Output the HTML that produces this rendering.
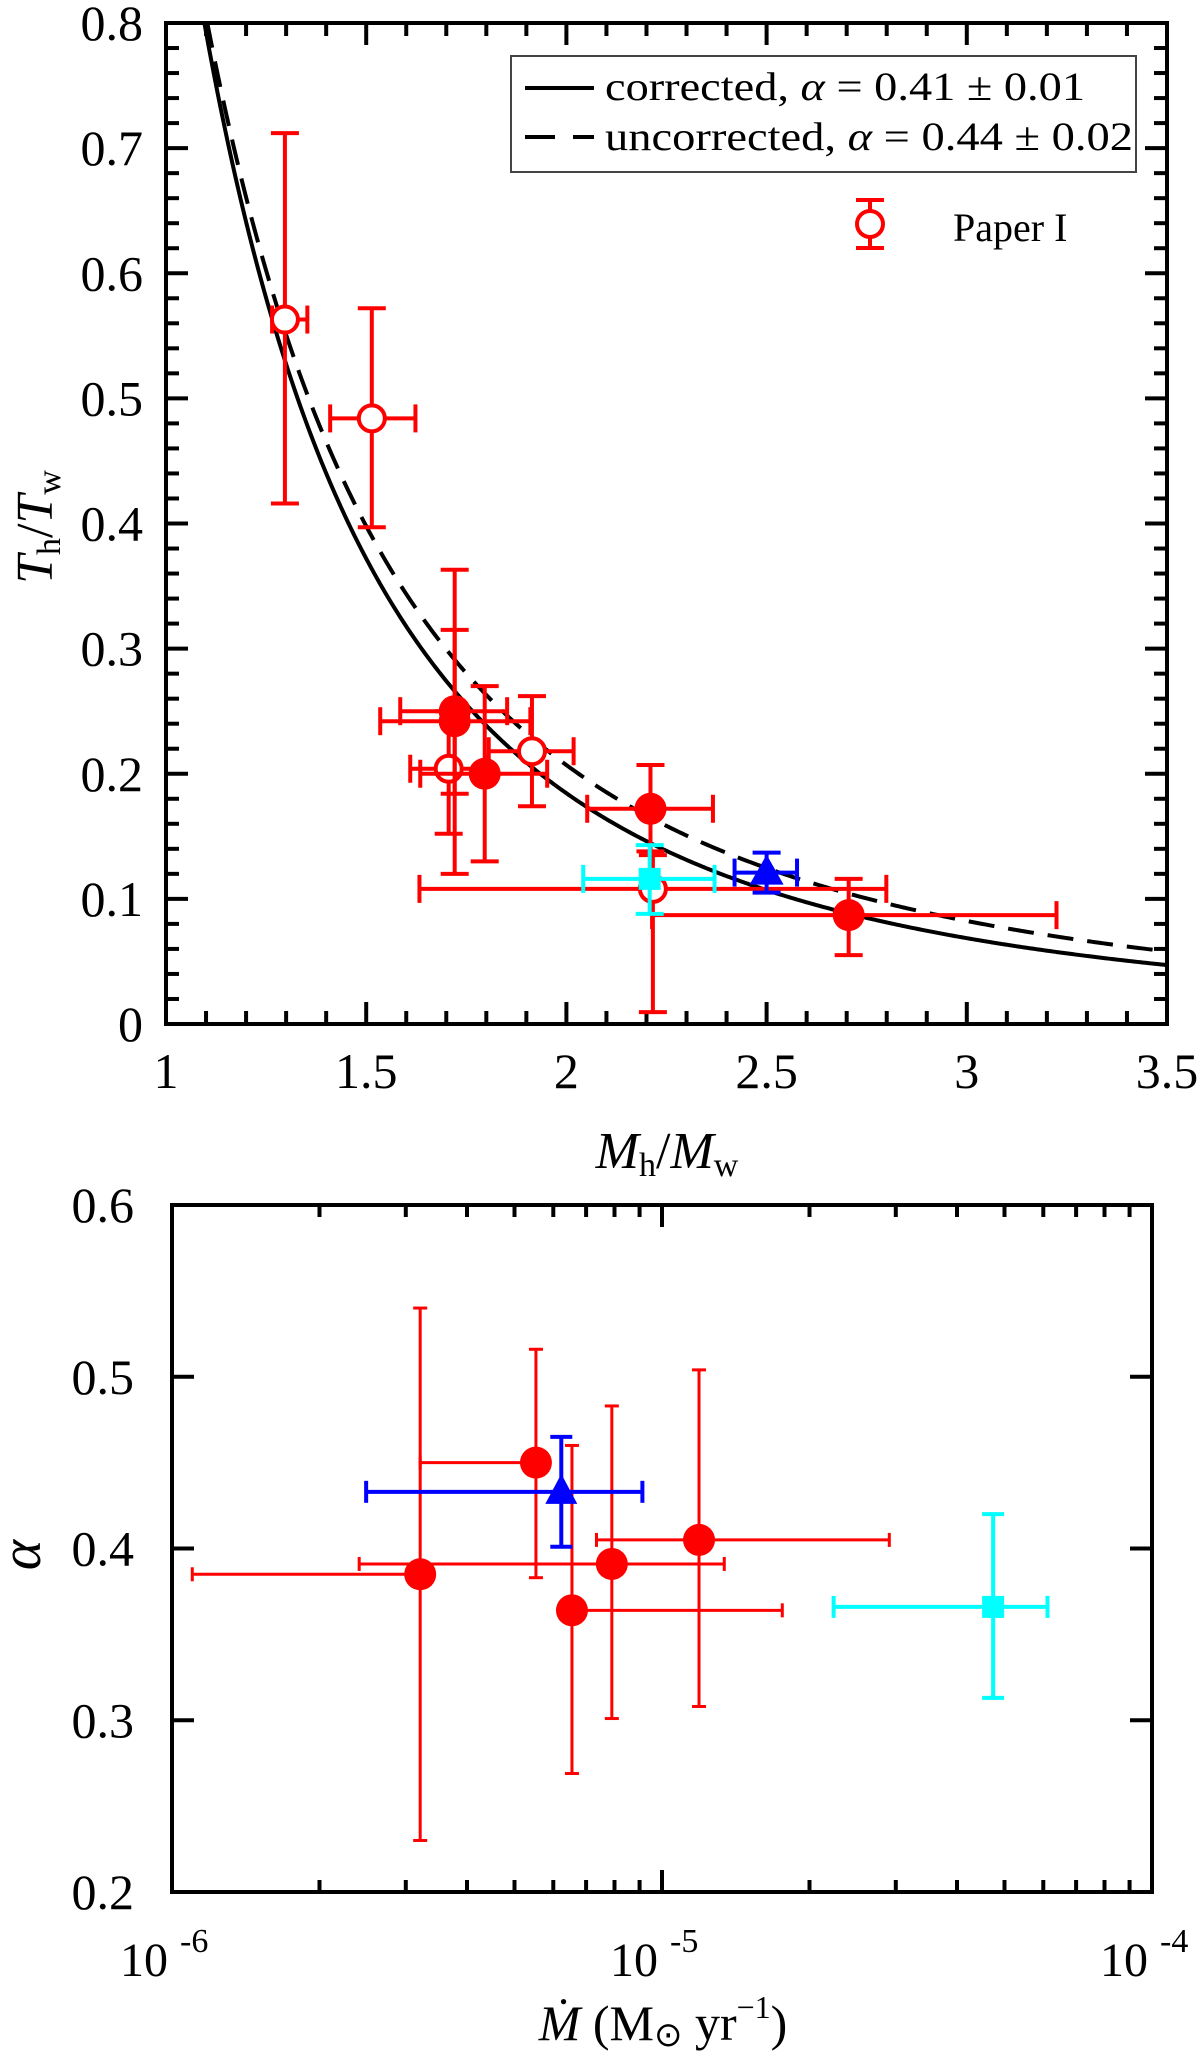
<!DOCTYPE html>
<html><head><meta charset="utf-8"><style>
html,body{margin:0;padding:0;background:#fff;}
svg{display:block;font-family:"Liberation Serif",serif;}
</style></head><body>
<svg id="fig" width="1200" height="2058" viewBox="0 0 1200 2058" xmlns="http://www.w3.org/2000/svg">
<defs>
<clipPath id="clipTop"><rect x="166" y="23" width="1001" height="1001"/></clipPath>
</defs>
<g id="topPanel"></g>
<g id="botPanel"></g>
</svg>
<script>
// ===== Top panel data =====
const fitAlphas = [0.41, 0.44];
const fitDash = ["none", "26 14"];
const topXTicks = [1, 1.5, 2, 2.5, 3, 3.5];
const topXTickLabels = ["1", "1.5", "2", "2.5", "3", "3.5"];
const topYTicks = [0, 0.1, 0.2, 0.3, 0.4, 0.5, 0.6, 0.7, 0.8];
const topYTickLabels = ["0", "0.1", "0.2", "0.3", "0.4", "0.5", "0.6", "0.7", "0.8"];
// Paper I (open red circles)
const openX = [1.297, 1.514, 1.706, 1.914, 2.216];
const openY = [0.563, 0.484, 0.204, 0.218, 0.108];
const openXlo = [1.265, 1.41, 1.61, 1.806, 1.633];
const openXhi = [1.353, 1.623, 1.80, 2.018, 2.799];
const openYlo = [0.416, 0.397, 0.152, 0.174, 0.0095];
const openYhi = [0.712, 0.572, 0.25, 0.262, 0.135];
// filled red circles
const fillX = [1.721, 1.721, 1.796, 2.21, 2.705];
const fillY = [0.250, 0.242, 0.200, 0.172, 0.087];
const fillXlo = [1.585, 1.535, 1.635, 2.052, 2.214];
const fillXhi = [1.852, 1.91, 1.952, 2.366, 3.224];
const fillYlo = [0.184, 0.120, 0.130, 0.138, 0.055];
const fillYhi = [0.315, 0.363, 0.270, 0.207, 0.116];
// cyan square & blue triangle
const cyanT = [2.208, 0.116, 2.042, 2.37, 0.088, 0.143];
const blueT = [2.5, 0.121, 2.42, 2.576, 0.105, 0.137];

// ===== Bottom panel data =====
const botYTicks = [0.2, 0.3, 0.4, 0.5, 0.6];
const botYTickLabels = ["0.2", "0.3", "0.4", "0.5", "0.6"];
const botXDecades = [-6, -5, -4];
const botXExpLabels = ["-6", "-5", "-4"];
const mdotX = [3.21e-6, 5.53e-6, 6.55e-6, 7.9e-6, 1.19e-5];
const mdotXlo = [1.10e-6, 3.21e-6, 6.55e-6, 2.41e-6, 7.35e-6];
const mdotXhi = [3.21e-6, 5.53e-6, 1.76e-5, 1.34e-5, 2.91e-5];
const alphaY = [0.385, 0.450, 0.364, 0.391, 0.405];
const alphaYlo = [0.230, 0.383, 0.269, 0.301, 0.308];
const alphaYhi = [0.540, 0.516, 0.460, 0.483, 0.504];
const blueB = [6.23e-6, 0.433, 2.49e-6, 9.12e-6, 0.401, 0.465];
const cyanB = [4.74e-5, 0.366, 2.24e-5, 6.12e-5, 0.313, 0.420];

const NS = "http://www.w3.org/2000/svg";
function mk(parent, tag, attrs, text) {
  const e = document.createElementNS(NS, tag);
  for (const k in attrs) e.setAttribute(k, attrs[k]);
  if (text !== undefined) e.textContent = text;
  parent.appendChild(e);
  return e;
}
const topG = document.getElementById("topPanel");
const botG = document.getElementById("botPanel");

// Top axes
const TL = 166, TR = 1167, TT = 23, TB = 1024;
const tx = v => TL + (v - 1) / 2.5 * (TR - TL);
const ty = v => TB - v / 0.8 * (TB - TT);

for (let i = 0; i <= 25; i++) {
  const v = 1 + i * 0.1, x = tx(v), maj = i % 5 === 0, L = maj ? 22 : 13;
  let t = mk(topG, "line", {x1: x, x2: x, y1: TB, y2: TB - L, stroke: "#000", "stroke-width": 4});
  
  
  t = mk(topG, "line", {x1: x, x2: x, y1: TT, y2: TT + L, stroke: "#000", "stroke-width": 4});
  
  
}
for (let i = 0; i <= 40; i++) {
  const v = i * 0.02, y = ty(v), maj = i % 5 === 0, L = maj ? 22 : 13;
  let t = mk(topG, "line", {x1: TL, x2: TL + L, y1: y, y2: y, stroke: "#000", "stroke-width": 4});
  
  
  t = mk(topG, "line", {x1: TR, x2: TR - L, y1: y, y2: y, stroke: "#000", "stroke-width": 4});
  
  
}
topXTicks.forEach((v, i) => {
  const t = mk(topG, "text", {x: tx(v), y: 1088, "font-size": 50, "text-anchor": "middle"}, topXTickLabels[i]);
  
  
});
topYTicks.forEach((v, i) => {
  const t = mk(topG, "text", {x: 143, y: ty(v) + 17, "font-size": 50, "text-anchor": "end"}, topYTickLabels[i]);
  
  
});

const curves = mk(topG, "g", {"clip-path": "url(#clipTop)"});


fitAlphas.forEach((a, k) => {
  let d = "";
  for (let i = 0; i <= 500; i++) {
    const m = 1.05 + i * (3.5 - 1.05) / 500;
    const t = Math.pow(m, -1 / a);
    d += (i ? "L" : "M") + tx(m).toFixed(2) + "," + ty(t).toFixed(2);
  }
  const p = mk(curves, "path", {d: d, fill: "none", stroke: "#000", "stroke-width": 4, "stroke-dasharray": fitDash[k]});
  
  
});

function errbar(g, fx, fy, x, y, xlo, xhi, ylo, yhi, col, w, cap) {
  mk(g, "line", {x1: fx(xlo), x2: fx(xhi), y1: fy(y), y2: fy(y), stroke: col, "stroke-width": w});
  mk(g, "line", {x1: fx(x), x2: fx(x), y1: fy(ylo), y2: fy(yhi), stroke: col, "stroke-width": w});
  if (xlo !== x) mk(g, "line", {x1: fx(xlo), x2: fx(xlo), y1: fy(y) - cap, y2: fy(y) + cap, stroke: col, "stroke-width": w});
  if (xhi !== x) mk(g, "line", {x1: fx(xhi), x2: fx(xhi), y1: fy(y) - cap, y2: fy(y) + cap, stroke: col, "stroke-width": w});
  mk(g, "line", {x1: fx(x) - cap, x2: fx(x) + cap, y1: fy(ylo), y2: fy(ylo), stroke: col, "stroke-width": w});
  mk(g, "line", {x1: fx(x) - cap, x2: fx(x) + cap, y1: fy(yhi), y2: fy(yhi), stroke: col, "stroke-width": w});
}

openX.forEach((x, i) => {
  const g = mk(topG, "g", {});
  
  
  errbar(g, tx, ty, x, openY[i], openXlo[i], openXhi[i], openYlo[i], openYhi[i], "#f00", 4, 14);
  mk(g, "circle", {cx: tx(x), cy: ty(openY[i]), r: 13, fill: "#fff", stroke: "#f00", "stroke-width": 4});
});
fillX.forEach((x, i) => {
  const g = mk(topG, "g", {});
  
  
  errbar(g, tx, ty, x, fillY[i], fillXlo[i], fillXhi[i], fillYlo[i], fillYhi[i], "#f00", 4, 14);
  mk(g, "circle", {cx: tx(x), cy: ty(fillY[i]), r: 16, fill: "#f00"});
});
{
  const g = mk(topG, "g", {});
  
  
  errbar(g, tx, ty, cyanT[0], cyanT[1], cyanT[2], cyanT[3], cyanT[4], cyanT[5], "#0ff", 4, 14);
  mk(g, "rect", {x: tx(cyanT[0]) - 11, y: ty(cyanT[1]) - 11, width: 22, height: 22, fill: "#0ff"});
  const b = mk(topG, "g", {});
  
  
  errbar(b, tx, ty, blueT[0], blueT[1], blueT[2], blueT[3], blueT[4], blueT[5], "#00f", 4, 14);
  const cx = tx(blueT[0]), cy = ty(blueT[1]);
  mk(b, "polygon", {points: `${cx},${cy - 18} ${cx - 17},${cy + 12} ${cx + 17},${cy + 12}`, fill: "#00f"});
}
let fr = mk(topG, "rect", {x: TL, y: TT, width: TR - TL, height: TB - TT, fill: "none", stroke: "#000", "stroke-width": 4});



const lg = mk(topG, "g", {});


mk(lg, "rect", {x: 511, y: 56, width: 625, height: 116, fill: "#fff", stroke: "#444", "stroke-width": 2});
mk(lg, "line", {x1: 525, x2: 594, y1: 88, y2: 88, stroke: "#000", "stroke-width": 4});
mk(lg, "line", {x1: 525, x2: 594, y1: 137, y2: 137, stroke: "#000", "stroke-width": 4, "stroke-dasharray": "30 18"});
let lt = mk(lg, "text", {x: 605, y: 100, "font-size": 40, textLength: 480, lengthAdjust: "spacingAndGlyphs"});
lt.innerHTML = 'corrected, <tspan font-style="italic">α</tspan> = 0.41 ± 0.01';


lt = mk(lg, "text", {x: 605, y: 150, "font-size": 40, textLength: 528, lengthAdjust: "spacingAndGlyphs"});
lt.innerHTML = 'uncorrected, <tspan font-style="italic">α</tspan> = 0.44 ± 0.02';


const lp = mk(lg, "g", {});


mk(lp, "line", {x1: 870, x2: 870, y1: 200, y2: 248, stroke: "#f00", "stroke-width": 4});
mk(lp, "line", {x1: 856, x2: 884, y1: 200, y2: 200, stroke: "#f00", "stroke-width": 4});
mk(lp, "line", {x1: 856, x2: 884, y1: 248, y2: 248, stroke: "#f00", "stroke-width": 4});
mk(lp, "circle", {cx: 870, cy: 224, r: 13, fill: "#fff", stroke: "#f00", "stroke-width": 4});
mk(lp, "text", {x: 953, y: 241, "font-size": 40}, "Paper I");

let at = mk(topG, "text", {x: 667, y: 1168, "font-size": 52, "text-anchor": "middle"});
at.innerHTML = '<tspan font-style="italic">M</tspan><tspan font-size="34" dy="8">h</tspan><tspan dy="-8">/</tspan><tspan font-style="italic">M</tspan><tspan font-size="34" dy="8">w</tspan>';


at = mk(topG, "text", {x: 0, y: 0, "font-size": 52, "text-anchor": "middle", transform: "translate(52,527) rotate(-90)"});
at.innerHTML = '<tspan font-style="italic">T</tspan><tspan font-size="34" dy="8">h</tspan><tspan dy="-8">/</tspan><tspan font-style="italic">T</tspan><tspan font-size="34" dy="8">w</tspan>';



// ===== Bottom panel =====
const BL = 172, BR = 1152, BT = 1205, BB = 1892;
const bx = v => BL + (Math.log10(v) + 6) / 2 * (BR - BL);
const by = v => BB - (v - 0.2) / 0.4 * (BB - BT);

for (let d = -6; d < -4; d++) {
  for (let m = 2; m <= 10; m++) {
    const x = bx(m * Math.pow(10, d)), L = m === 10 ? 22 : 12;
    let t = mk(botG, "line", {x1: x, x2: x, y1: BB, y2: BB - L, stroke: "#000", "stroke-width": 4});
    
    
    t = mk(botG, "line", {x1: x, x2: x, y1: BT, y2: BT + L, stroke: "#000", "stroke-width": 4});
    
    
  }
}
botYTicks.forEach((v, i) => {
  const y = by(v);
  let t = mk(botG, "line", {x1: BL, x2: BL + 22, y1: y, y2: y, stroke: "#000", "stroke-width": 4});
  
  
  t = mk(botG, "line", {x1: BR, x2: BR - 22, y1: y, y2: y, stroke: "#000", "stroke-width": 4});
  
  
  t = mk(botG, "text", {x: 134, y: y + 17, "font-size": 50, "text-anchor": "end"}, botYTickLabels[i]);
  
  
});
botXDecades.forEach((d, i) => {
  const x = bx(Math.pow(10, d));
  const t = mk(botG, "text", {x: x - 52, y: 1976, "font-size": 48});
  t.innerHTML = '10 <tspan font-size="34" dy="-24">' + botXExpLabels[i] + '</tspan>';
  
  
});

mdotX.forEach((x, i) => {
  const g = mk(botG, "g", {});
  
  
  errbar(g, bx, by, x, alphaY[i], mdotXlo[i], mdotXhi[i], alphaYlo[i], alphaYhi[i], "#f00", 3, 7);
  mk(g, "ellipse", {cx: bx(x), cy: by(alphaY[i]), rx: 16, ry: 16, fill: "#f00"});
});
{
  const b = mk(botG, "g", {});
  
  
  errbar(b, bx, by, blueB[0], blueB[1], blueB[2], blueB[3], blueB[4], blueB[5], "#00f", 4, 11);
  const cx = bx(blueB[0]), cy = by(blueB[1]);
  mk(b, "polygon", {points: `${cx},${cy - 18} ${cx - 16},${cy + 12} ${cx + 16},${cy + 12}`, fill: "#00f"});
  const c = mk(botG, "g", {});
  
  
  errbar(c, bx, by, cyanB[0], cyanB[1], cyanB[2], cyanB[3], cyanB[4], cyanB[5], "#0ff", 4, 11);
  mk(c, "rect", {x: bx(cyanB[0]) - 11, y: by(cyanB[1]) - 11, width: 22, height: 22, fill: "#0ff"});
}
fr = mk(botG, "rect", {x: BL, y: BT, width: BR - BL, height: BB - BT, fill: "none", stroke: "#000", "stroke-width": 4});



at = mk(botG, "text", {x: 663, y: 2040, "font-size": 50, "text-anchor": "middle"});
at.innerHTML = '<tspan font-style="italic">Ṁ</tspan> (M<tspan font-size="34" dy="6">⊙</tspan><tspan dy="-6"> yr</tspan><tspan font-size="32" dy="-22">−1</tspan><tspan dy="22">)</tspan>';


at = mk(botG, "text", {x: 0, y: 0, "font-size": 58, "font-style": "italic", "text-anchor": "middle", transform: "translate(40,1555) rotate(-90)"}, "α");


</script>
</body></html>
